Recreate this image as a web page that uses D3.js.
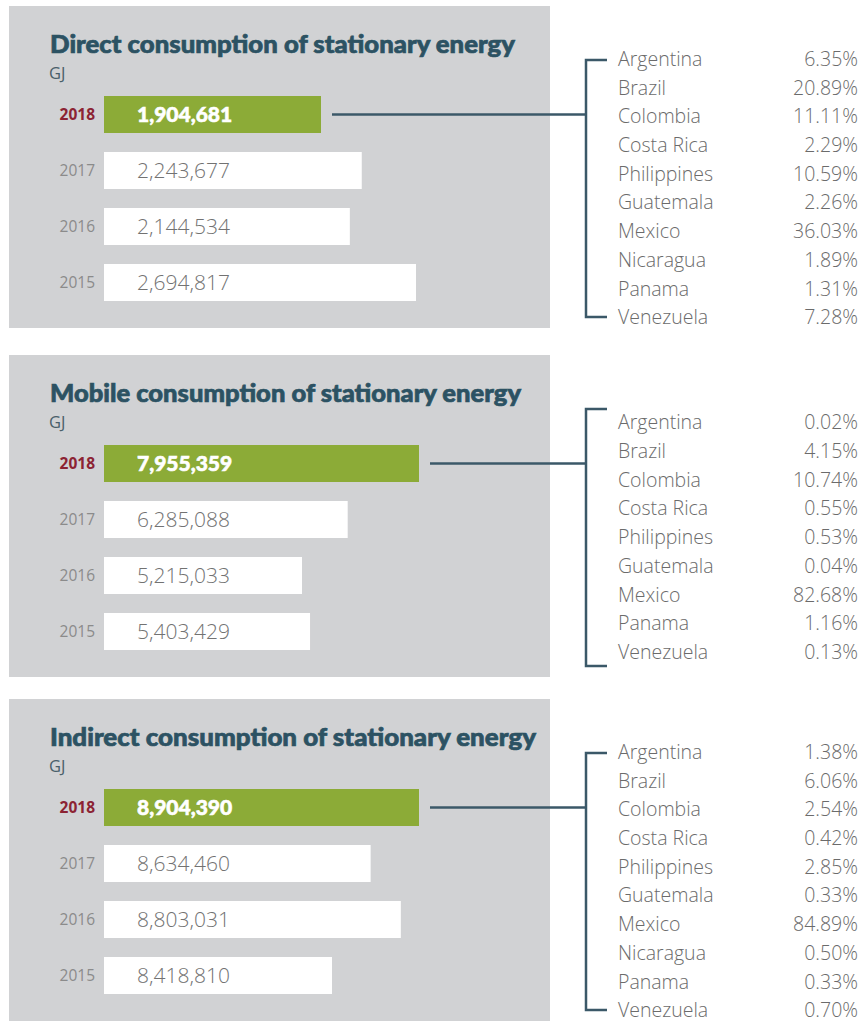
<!DOCTYPE html>
<html lang="en">
	<head>
		<meta charset="UTF-8" />
		<title>Consumption of stationary energy</title>
		<style>
			html,
			body {
				margin: 0;
				padding: 0;
				background-color: #ffffff;
			}

			svg {
				display: block;
			}

			.title {
				font-family: 'Lato', sans-serif;
				font-weight: 900;
				fill: #2c5263;
				stroke: #2c5263;
				stroke-width: 0.7px;
			}

			.unit {
				font-family: 'Open Sans', sans-serif;
				font-weight: 400;
				fill: #4a5f6a;
			}

			.light {
				font-family: 'Open Sans', sans-serif;
				font-weight: 300;
			}
		</style>
	</head>
	<body>
		<svg id="chart"></svg>

		<script src="https://d3js.org/d3.v7.min.js"></script>

		<script>
			const years = ['2018', '2017', '2016', '2015'];

			const titles = [
				'Direct consumption of stationary energy',
				'Mobile consumption of stationary energy',
				'Indirect consumption of stationary energy'
			];

			const directValues = [1904681, 2243677, 2144534, 2694817];
			const mobileValues = [7955359, 6285088, 5215033, 5403429];
			const indirectValues = [8904390, 8634460, 8803031, 8418810];

			const directCountries = ['Argentina', 'Brazil', 'Colombia', 'Costa Rica', 'Philippines', 'Guatemala', 'Mexico', 'Nicaragua', 'Panama', 'Venezuela'];
			const directShares = ['6.35%', '20.89%', '11.11%', '2.29%', '10.59%', '2.26%', '36.03%', '1.89%', '1.31%', '7.28%'];

			const mobileCountries = ['Argentina', 'Brazil', 'Colombia', 'Costa Rica', 'Philippines', 'Guatemala', 'Mexico', 'Panama', 'Venezuela'];
			const mobileShares = ['0.02%', '4.15%', '10.74%', '0.55%', '0.53%', '0.04%', '82.68%', '1.16%', '0.13%'];

			const indirectCountries = ['Argentina', 'Brazil', 'Colombia', 'Costa Rica', 'Philippines', 'Guatemala', 'Mexico', 'Nicaragua', 'Panama', 'Venezuela'];
			const indirectShares = ['1.38%', '6.06%', '2.54%', '0.42%', '2.85%', '0.33%', '84.89%', '0.50%', '0.33%', '0.70%'];

			const width = 860;
			const height = 1021;
			const svg = d3.select('#chart').attr('width', width).attr('height', height);

			const GREY = '#d1d2d4';
			const GREEN = '#8cab37';
			const LINE = '#3b5868';
			const RED = '#8c2333';

			const barX = 104;
			const barH = 37;
			const rowStep = 56;
			const listStep = 28.7;

			// each panel: top of grey box, bar scale fit, title width
			const panels = [
				{ top: 6, title: titles[0], titleW: 465, values: directValues, dom: [1904681, 2694817], wid: [217, 312], countries: directCountries, shares: directShares },
				{ top: 355, title: titles[1], titleW: 471, values: mobileValues, dom: [5215033, 7955359], wid: [198, 315], countries: mobileCountries, shares: mobileShares },
				{ top: 699, title: titles[2], titleW: 486, values: indirectValues, dom: [8418810, 8904390], wid: [228, 315], countries: indirectCountries, shares: indirectShares }
			];

			panels.forEach((p) => {
				const g = svg.append('g').attr('transform', `translate(0,${p.top})`);

				g.append('rect')
					.attr('x', 9)
					.attr('y', 0)
					.attr('width', 541)
					.attr('height', 322)
					.attr('fill', GREY);

				g.append('text')
					.attr('class', 'title')
					.attr('x', 50)
					.attr('y', 47)
					.attr('font-size', 25)
					.attr('textLength', p.titleW)
					.attr('lengthAdjust', 'spacingAndGlyphs')
					.text(p.title);

				g.append('text').attr('class', 'unit').attr('x', 49).attr('y', 73).attr('font-size', 16.5).text('GJ');

				const x = d3
					.scaleLinear()
					.domain(p.dom)
					.range([barX + p.wid[0], barX + p.wid[1]]);

				const y = d3
					.scaleBand()
					.domain(years)
					.range([90, 90 + rowStep * years.length])
					.paddingInner(0);

				const rows = g
					.selectAll('g.row')
					.data(years.map((yr, i) => ({ year: yr, value: p.values[i], i })))
					.join('g')
					.attr('class', 'row')
					.attr('transform', (d) => `translate(0,${y(d.year)})`);

				rows.append('rect')
					.attr('x', barX)
					.attr('y', 0)
					.attr('width', (d) => x(d.value) - barX)
					.attr('height', barH)
					.attr('fill', (d) => (d.i === 0 ? GREEN : '#ffffff'));

				rows.append('text')
					.attr('x', 95)
					.attr('y', barH / 2)
					.attr('dy', '0.36em')
					.attr('text-anchor', 'end')
					.attr('font-family', "'Open Sans', sans-serif")
					.attr('font-weight', (d) => (d.i === 0 ? 700 : 400))
					.attr('font-size', 15.5)
					.attr('fill', (d) => (d.i === 0 ? RED : '#8b8b8b'))
					.text((d) => d.year);

				rows.append('text')
					.attr('x', 137)
					.attr('y', barH / 2)
					.attr('dy', '0.36em')
					.attr('font-family', (d) => (d.i === 0 ? "'Lato', sans-serif" : "'Open Sans', sans-serif"))
					.attr('font-weight', (d) => (d.i === 0 ? 900 : 300))
					.attr('font-size', 21)
					.attr('fill', (d) => (d.i === 0 ? '#ffffff' : '#727272'))
					.attr('stroke', (d) => (d.i === 0 ? '#ffffff' : 'none'))
					.attr('stroke-width', 0.6)
					.text((d) => d3.format(',')(d.value));

				// connector from the 2018 bar to the bracket
				const cy = y(years[0]) + barH / 2;
				const bx = 586;
				const bTop = 54;
				const bBot = 311;
				const mid = (bTop + bBot) / 2;

				g.append('line')
					.attr('x1', x(p.values[0]) + 11)
					.attr('x2', bx)
					.attr('y1', cy)
					.attr('y2', cy)
					.attr('stroke', LINE)
					.attr('stroke-width', 2.5);

				g.append('path')
					.attr('d', `M${bx + 21},${bTop}H${bx}V${bBot}H${bx + 21}`)
					.attr('fill', 'none')
					.attr('stroke', LINE)
					.attr('stroke-width', 2.5);

				const n = p.countries.length;
				const ly = d3
					.scalePoint()
					.domain(p.countries)
					.range([mid - ((n - 1) / 2) * listStep, mid + ((n - 1) / 2) * listStep]);

				const list = g.append('g').attr('class', 'light').attr('font-size', 19.5).attr('fill', '#6b6b6b');

				list.selectAll('text.country')
					.data(p.countries)
					.join('text')
					.attr('class', 'country')
					.attr('x', 618)
					.attr('y', (d) => ly(d))
					.attr('dy', '0.34em')
					.text((d) => d);

				list.selectAll('text.share')
					.data(p.shares)
					.join('text')
					.attr('class', 'share')
					.attr('x', 858)
					.attr('y', (d, i) => ly(p.countries[i]))
					.attr('dy', '0.34em')
					.attr('text-anchor', 'end')
					.text((d) => d);
			});
		</script>
	</body>
</html>
